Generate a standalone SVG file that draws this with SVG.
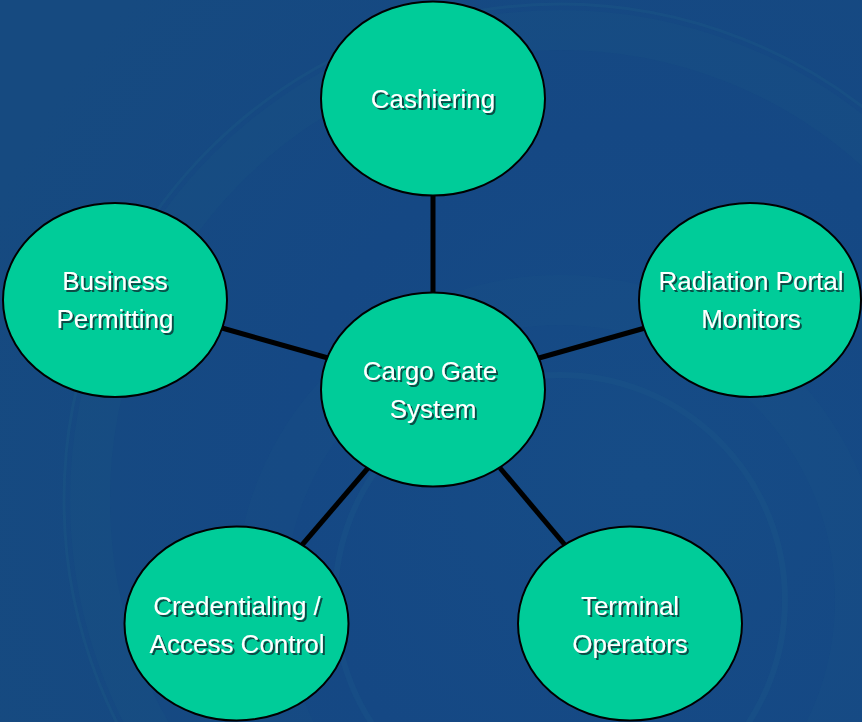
<svg xmlns="http://www.w3.org/2000/svg" width="862" height="722" viewBox="0 0 862 722">
<defs>
<radialGradient id="bg" cx="640" cy="480" r="700" gradientUnits="userSpaceOnUse">
<stop offset="0" stop-color="#164c86"/>
<stop offset="0.5" stop-color="#154884"/>
<stop offset="1" stop-color="#164a80"/>
</radialGradient>
<filter id="sh" x="-10%" y="-10%" width="130%" height="140%">
<feOffset in="SourceAlpha" dx="2" dy="2" result="o"/>
<feFlood flood-color="#0a2a30" flood-opacity="0.8"/>
<feComposite in2="o" operator="in" result="s"/>
<feMerge><feMergeNode in="s"/><feMergeNode in="SourceGraphic"/></feMerge>
</filter>
</defs>
<style>
.node ellipse{fill:#00cc99;stroke:#000;stroke-width:2}
.node text{font-family:"Liberation Sans",Arial,sans-serif;font-size:26px;fill:#fff;text-anchor:middle;filter:url(#sh)}
#connectors line{stroke:#000;stroke-width:5}
.swirl{fill:none;stroke:#2a7090}
</style>
<rect width="862" height="722" fill="url(#bg)"/>
<g id="background-swirl">
<circle class="swirl" cx="560" cy="500" r="496" stroke-width="3" stroke-opacity="0.15"/>
<circle class="swirl" cx="560" cy="500" r="470" stroke-width="40" stroke-opacity="0.08"/>
<circle class="swirl" cx="560" cy="600" r="225" stroke-width="6" stroke-opacity="0.12"/>
<circle class="swirl" cx="560" cy="600" r="300" stroke-width="50" stroke-opacity="0.07"/>
</g>
<g id="connectors">
<line x1="433" y1="195" x2="433" y2="294"/>
<line x1="222" y1="328" x2="328" y2="358"/>
<line x1="645" y1="328" x2="539" y2="358"/>
<line x1="302" y1="545" x2="368" y2="468"/>
<line x1="565" y1="545" x2="500" y2="468"/>
</g>
<g id="cashiering" class="node">
<ellipse cx="433" cy="98.5" rx="112" ry="97"/>
<text x="433" y="108">Cashiering</text>
</g>
<g id="cargo-gate-system" class="node">
<ellipse cx="433" cy="389.5" rx="112" ry="97"/>
<text x="430" y="380">Cargo Gate</text>
<text x="433" y="418">System</text>
</g>
<g id="business-permitting" class="node">
<ellipse cx="115" cy="300" rx="112" ry="97"/>
<text x="115" y="290">Business</text>
<text x="115" y="328">Permitting</text>
</g>
<g id="radiation-portal-monitors" class="node">
<ellipse cx="750" cy="300" rx="111" ry="97"/>
<text x="751" y="290">Radiation Portal</text>
<text x="751" y="328">Monitors</text>
</g>
<g id="credentialing-access-control" class="node">
<ellipse cx="236.5" cy="623.5" rx="112" ry="97"/>
<text x="237" y="615">Credentialing /</text>
<text x="237" y="653">Access Control</text>
</g>
<g id="terminal-operators" class="node">
<ellipse cx="630" cy="623.5" rx="112" ry="97"/>
<text x="630" y="615">Terminal</text>
<text x="630" y="653">Operators</text>
</g>
</svg>
